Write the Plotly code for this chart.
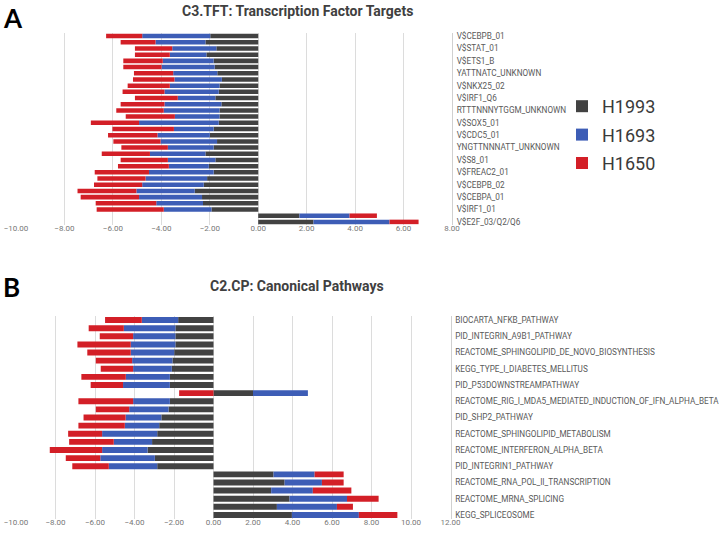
import plotly.graph_objects as go

# ---- panel A: C3.TFT (31 rows, every other one labelled) ----
tft_labels = ["V$CEBPB_01", "V$STAT_01", "V$ETS1_B", "YATTNATC_UNKNOWN", "V$NKX25_02",
              "V$IRF1_Q6", "RTTTNNNYTGGM_UNKNOWN", "V$SOX5_01", "V$CDC5_01",
              "YNGTTNNNATT_UNKNOWN", "V$S8_01", "V$FREAC2_01", "V$CEBPB_02",
              "V$CEBPA_01", "V$IRF1_01", "V$E2F_03/Q2/Q6"]
tft_h1993 = [-1.98, -2.18, -1.73, -2.14, -1.84, -1.80, -1.69, -1.50, -1.60, -1.63,
             -1.77, -1.52, -1.60, -1.60, -1.63, -1.84, -2.00, -1.70, -1.84, -2.18,
             -1.77, -2.04, -1.84, -2.11, -2.25, -2.62, -2.32, -2.28, -1.93, 1.70, 2.28]
tft_h1693 = [-2.81, -2.06, -1.82, -1.51, -2.10, -2.19, -1.82, -1.96, -2.05, -2.24,
             -1.55, -2.35, -2.30, -1.84, -3.29, -1.64, -2.16, -2.33, -1.89, -2.29,
             -1.96, -1.65, -2.67, -2.54, -2.54, -2.41, -2.60, -1.93, -1.97, 2.07, 3.14]
tft_h1650 = [-1.49, -1.44, -1.54, -1.44, -1.63, -1.58, -1.62, -1.71, -1.74, -1.73,
             -1.77, -1.81, -1.96, -2.03, -1.99, -2.54, -2.04, -1.95, -1.92, -1.99,
             -1.95, -2.10, -2.24, -1.99, -1.99, -2.43, -2.41, -2.50, -2.77, 1.13, 1.20]

# ---- panel B: C2.CP (25 rows, every other one labelled) ----
cp_labels = ["BIOCARTA_NFKB_PATHWAY", "PID_INTEGRIN_A9B1_PATHWAY",
             "REACTOME_SPHINGOLIPID_DE_NOVO_BIOSYNTHESIS", "KEGG_TYPE_I_DIABETES_MELLITUS",
             "PID_P53DOWNSTREAMPATHWAY", "REACTOME_RIG_I_MDA5_MEDIATED_INDUCTION_OF_IFN_ALPHA_BETA",
             "PID_SHP2_PATHWAY", "REACTOME_SPHINGOLIPID_METABOLISM",
             "REACTOME_INTERFERON_ALPHA_BETA", "PID_INTEGRIN1_PATHWAY",
             "REACTOME_RNA_POL_II_TRANSCRIPTION", "REACTOME_MRNA_SPLICING", "KEGG_SPLICEOSOME"]
cp_h1993 = [-1.79, -1.93, -1.93, -1.93, -1.99, -2.08, -2.11, -2.21, -2.21, 2.00,
            -2.21, -2.28, -2.64, -2.75, -2.85, -3.11, -3.34, -2.97, -2.85,
            3.04, 3.60, 2.92, 3.85, 3.21, 3.97]
cp_h1693 = [-1.84, -2.61, -2.14, -2.26, -2.20, -2.04, -1.96, -2.23, -2.37, 2.78,
            -1.86, -1.99, -1.81, -1.74, -2.79, -1.94, -2.30, -2.76, -2.45,
            2.08, 1.89, 2.11, 2.91, 3.04, 3.39]
cp_h1650 = [-1.86, -1.78, -1.69, -2.70, -2.20, -1.84, -1.64, -2.25, -1.64, -1.74,
            -2.77, -1.69, -2.13, -2.35, -1.72, -2.26, -2.65, -1.75, -1.85,
            1.47, 1.10, 1.95, 1.60, 0.81, 1.95]

series = ["H1993", "H1693", "H1650"]
colors = {"H1993": "#424242", "H1693": "#3d5db6", "H1650": "#d31f27"}

FONT = "Roboto, Liberation Sans"
W, H = 726, 535


def px_x(p):
    return p / W


def px_y(p):
    return 1 - p / H


fig = go.Figure()

for name, vals in zip(series, [tft_h1993, tft_h1693, tft_h1650]):
    fig.add_trace(go.Bar(x=vals, y=list(range(len(vals))), orientation="h", name=name,
                         marker=dict(color=colors[name], line=dict(width=0)),
                         xaxis="x", yaxis="y", legendgroup=name))

for name, vals in zip(series, [cp_h1993, cp_h1693, cp_h1650]):
    fig.add_trace(go.Bar(x=vals, y=list(range(len(vals))), orientation="h", name=name,
                         marker=dict(color=colors[name], line=dict(width=0)),
                         xaxis="x2", yaxis="y2", showlegend=False, legendgroup=name))

xcommon = dict(showgrid=True, gridcolor="#dcdcdc", gridwidth=1, zeroline=False,
               showline=False, ticks="", dtick=2, tickformat=".2f", automargin=False,
               ticklabelstandoff=-3,
               tickfont=dict(family=FONT, size=8, color="#777777"))
ycommon = dict(side="right", showgrid=False, zeroline=False, showline=True,
               linecolor="#d0d0d0", linewidth=1, ticks="", automargin=False,
               ticklabelstandoff=2,
               tickfont=dict(family=FONT, size=8.2, color="#5a5a5a"))

fig.update_layout(
    width=W, height=H,
    margin=dict(l=0, r=0, t=0, b=0, autoexpand=False),
    paper_bgcolor="white", plot_bgcolor="white",
    barmode="relative",
    bargap=0.27,
    xaxis=dict(domain=[px_x(16), px_x(452)], range=[-10, 8], anchor="y",
               tick0=-10, **xcommon),
    yaxis=dict(domain=[px_y(225), px_y(33)], range=[30.5, -0.5], anchor="x",
               tickvals=list(range(0, 31, 2)), ticktext=tft_labels, **ycommon),
    xaxis2=dict(domain=[px_x(16), px_x(450.5)], range=[-10, 12], anchor="y2",
                tick0=-10, **xcommon),
    yaxis2=dict(domain=[px_y(519), px_y(316)], range=[24.5, -0.5], anchor="x2",
                tickvals=list(range(0, 25, 2)), ticktext=cp_labels, **ycommon),
    legend=dict(x=px_x(562), y=px_y(88), xanchor="left", yanchor="top",
                font=dict(family=FONT, size=18, color="#3a3a3a"),
                traceorder="grouped", tracegroupgap=2, bgcolor="rgba(0,0,0,0)"),
    showlegend=True,
)

title_font = dict(family=FONT, size=14, color="#404040")
fig.add_annotation(text="<b>C3.TFT: Transcription Factor Targets</b>", xref="paper", yref="paper",
                   x=px_x(297), y=px_y(11), xanchor="center", yanchor="middle",
                   showarrow=False, font=title_font)
fig.add_annotation(text="<b>C2.CP: Canonical Pathways</b>", xref="paper", yref="paper",
                   x=px_x(297), y=px_y(286), xanchor="center", yanchor="middle",
                   showarrow=False, font=title_font)

panel_font = dict(family="Lato, Liberation Sans", size=26, color="black")
fig.add_annotation(text="<b>A</b>", xref="paper", yref="paper", x=px_x(1), y=px_y(18),
                   xanchor="left", yanchor="middle", showarrow=False, font=panel_font)
fig.add_annotation(text="<b>B</b>", xref="paper", yref="paper", x=px_x(1), y=px_y(287),
                   xanchor="left", yanchor="middle", showarrow=False, font=panel_font)

# the page body has an 8px default margin; drop it so the figure fills the window
fig.write_html("out.html", config={"displayModeBar": False},
               post_script="document.body.style.margin='0';")
